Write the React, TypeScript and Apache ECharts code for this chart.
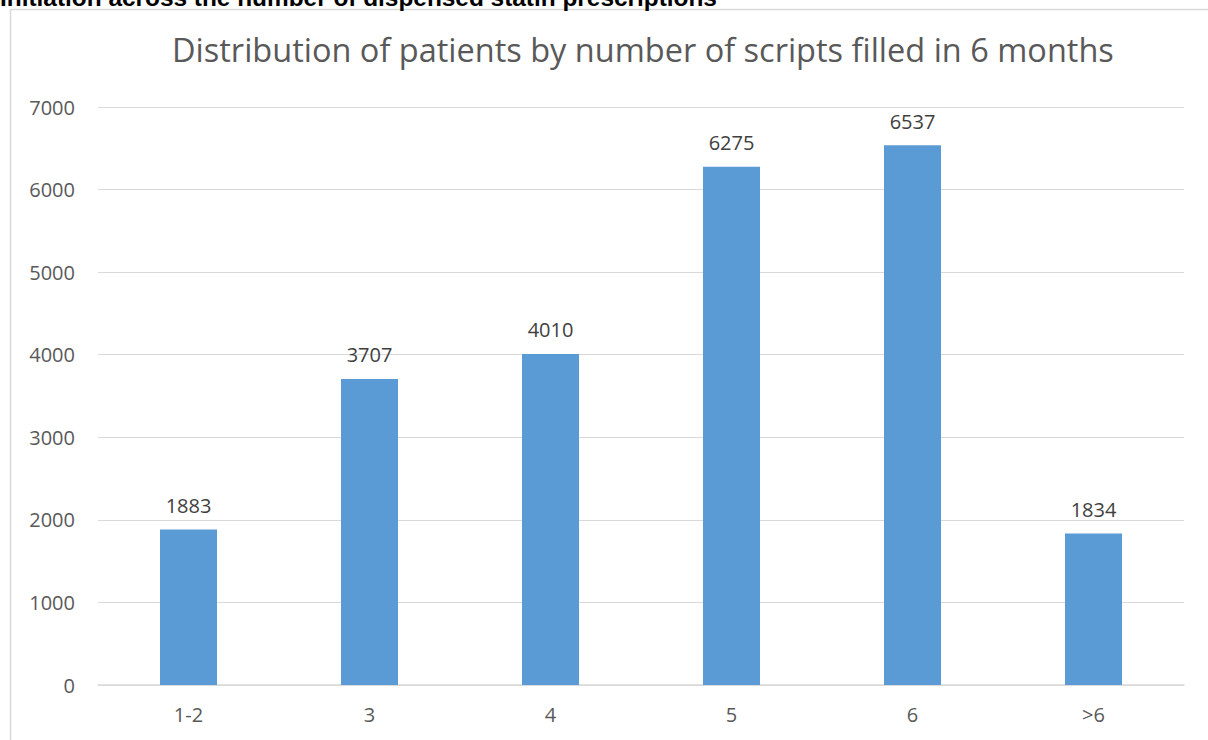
import React, { useEffect, useRef } from "react";
import * as echarts from "echarts";

const categories = ["1-2", "3", "4", "5", "6", ">6"];
const patients = [1883, 3707, 4010, 6275, 6537, 1834];
const titleText = "Distribution of patients by number of scripts filled in 6 months";
const headerText = "Initiation across the number of dispensed statin prescriptions";

const FONT = "Open Sans";

export default function App() {
  const ref = useRef<HTMLDivElement>(null);
  useEffect(() => {
    const chart = echarts.init(ref.current!, undefined, { renderer: "svg" });
    chart.setOption({
      animation: false,
      backgroundColor: "#ffffff",
      title: {
        text: titleText,
        left: 167,
        top: 28,
        textStyle: { fontFamily: FONT, fontSize: 32.5, fontWeight: "normal", color: "#595959" },
      },
      graphic: [
        {
          type: "rect",
          shape: { x: 10.5, y: 9.5, width: 1400, height: 900 },
          style: { fill: "none", stroke: "#d9d9d9", lineWidth: 1.5 },
          silent: true,
        },
        {
          type: "text",
          x: 0,
          y: 9,
          style: {
            text: headerText,
            fontFamily: "Liberation Sans",
            fontWeight: "bold",
            fontSize: 24.4,
            fill: "#000000",
            verticalAlign: "bottom",
          },
        },
      ],
      grid: { left: 98, right: 24, top: 107, bottom: 55 },
      xAxis: {
        type: "category",
        data: categories,
        axisLine: { lineStyle: { color: "#d9d9d9", width: 1.5 } },
        axisTick: { show: false },
        axisLabel: { color: "#595959", fontSize: 20, fontFamily: FONT, margin: 19 },
      },
      yAxis: {
        type: "value",
        min: 0,
        max: 7000,
        interval: 1000,
        axisLine: { show: false },
        axisTick: { show: false },
        splitLine: { lineStyle: { color: "#d9d9d9", width: 1 } },
        axisLabel: {
          color: "#595959",
          fontSize: 20,
          fontFamily: FONT,
          margin: 23,
          formatter: (v: number) => String(v),
        },
      },
      series: [
        {
          type: "bar",
          data: patients,
          barWidth: "31.5%",
          itemStyle: { color: "#5b9bd5" },
          label: {
            show: true,
            position: "top",
            distance: 14,
            color: "#404040",
            fontSize: 20,
            fontFamily: FONT,
          },
        },
      ],
    });
    return () => chart.dispose();
  }, []);
  return (
    <div
      ref={ref}
      style={{ position: "fixed", left: 0, top: 0, width: 1208, height: 740 }}
    />
  );
}
